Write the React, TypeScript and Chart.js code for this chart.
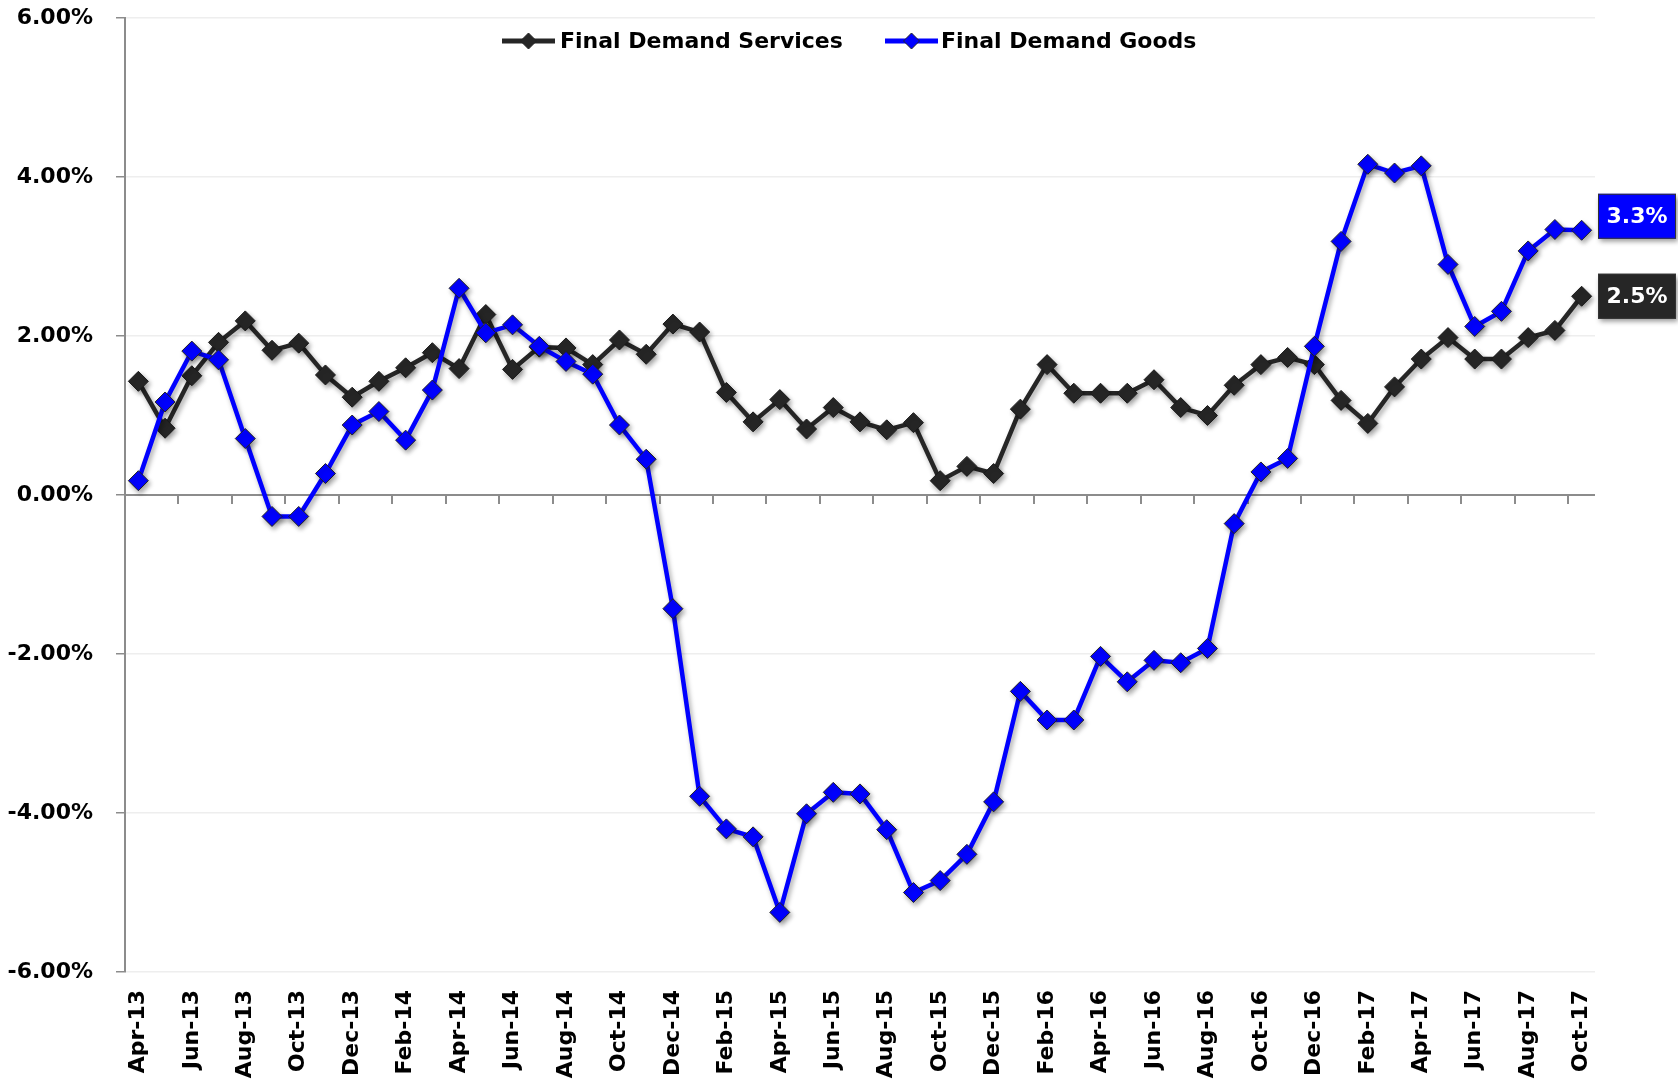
import { useEffect, useRef } from 'react';
import { Chart, registerables } from 'chart.js';

Chart.register(...registerables);

const months = [
  'Apr-13', 'May-13', 'Jun-13', 'Jul-13', 'Aug-13', 'Sep-13', 'Oct-13', 'Nov-13', 'Dec-13',
  'Jan-14', 'Feb-14', 'Mar-14', 'Apr-14', 'May-14', 'Jun-14', 'Jul-14', 'Aug-14', 'Sep-14', 'Oct-14', 'Nov-14', 'Dec-14',
  'Jan-15', 'Feb-15', 'Mar-15', 'Apr-15', 'May-15', 'Jun-15', 'Jul-15', 'Aug-15', 'Sep-15', 'Oct-15', 'Nov-15', 'Dec-15',
  'Jan-16', 'Feb-16', 'Mar-16', 'Apr-16', 'May-16', 'Jun-16', 'Jul-16', 'Aug-16', 'Sep-16', 'Oct-16', 'Nov-16', 'Dec-16',
  'Jan-17', 'Feb-17', 'Mar-17', 'Apr-17', 'May-17', 'Jun-17', 'Jul-17', 'Aug-17', 'Sep-17', 'Oct-17',
];

const servicesValues = [
  1.43, 0.84, 1.50, 1.92, 2.19, 1.82, 1.91, 1.51, 1.23,
  1.43, 1.60, 1.79, 1.59, 2.27, 1.58, 1.86, 1.85, 1.64, 1.95, 1.77, 2.15,
  2.05, 1.29, 0.92, 1.20, 0.83, 1.10, 0.92, 0.82, 0.91, 0.18, 0.36, 0.27,
  1.08, 1.64, 1.28, 1.28, 1.28, 1.45, 1.10, 1.00, 1.38, 1.64, 1.73, 1.64,
  1.19, 0.90, 1.36, 1.71, 1.98, 1.71, 1.71, 1.98, 2.07, 2.50,
];

const goodsValues = [
  0.18, 1.17, 1.81, 1.70, 0.71, -0.27, -0.27, 0.27, 0.88,
  1.05, 0.69, 1.32, 2.60, 2.04, 2.14, 1.87, 1.68, 1.52, 0.88, 0.45, -1.43,
  -3.79, -4.20, -4.30, -5.25, -4.01, -3.74, -3.76, -4.21, -5.00, -4.85, -4.52, -3.86,
  -2.47, -2.83, -2.83, -2.03, -2.35, -2.08, -2.11, -1.93, -0.36, 0.29, 0.46, 1.87,
  3.19, 4.16, 4.05, 4.14, 2.90, 2.12, 2.31, 3.07, 3.34, 3.33,
];

const seriesNames = ['Final Demand Services', 'Final Demand Goods'];
const seriesColors = ['#262626', '#0000ff'];
const endLabels = ['2.5%', '3.3%'];
const yMin = -6;
const yMax = 6;
const yStep = 2;

const FONT = '"DejaVu Sans", Verdana, sans-serif';

export default function App() {
  const ref = useRef<HTMLCanvasElement>(null);

  useEffect(() => {
    document.body.style.margin = '0';
    const canvas = ref.current;
    if (!canvas) return;

    const legendPos = [
      { lineX: 502, textX: 560 },
      { lineX: 885, textX: 941 },
    ];
    const endLabelOffsets = [0, -14];

    const overlay = {
      id: 'overlay',
      beforeDatasetsDraw(chart: any) {
        const { ctx, chartArea: a, scales } = chart;
        const xs = scales.x;
        const ys = scales.y;
        const y0 = ys.getPixelForValue(0);
        ctx.save();
        ctx.strokeStyle = '#8c8c8c';
        ctx.lineWidth = 2;
        ctx.beginPath();
        ctx.moveTo(a.left, y0);
        ctx.lineTo(a.right, y0);
        for (let i = 2; i < months.length; i += 2) {
          const bx = Math.round((xs.getPixelForValue(i - 1) + xs.getPixelForValue(i)) / 2);
          ctx.moveTo(bx, y0);
          ctx.lineTo(bx, y0 + 9);
        }
        ctx.stroke();
        ctx.restore();
        ctx.save();
        ctx.shadowColor = 'rgba(0,0,0,0.35)';
        ctx.shadowBlur = 5;
        ctx.shadowOffsetX = 2;
        ctx.shadowOffsetY = 3;
      },
      afterDatasetsDraw(chart: any) {
        chart.ctx.restore();
      },
      afterDraw(chart: any) {
        const { ctx, scales } = chart;
        const ys = scales.y;
        // legend
        ctx.save();
        const ly = 41;
        for (let k = 0; k < seriesNames.length; k++) {
          const p = legendPos[k];
          ctx.strokeStyle = seriesColors[k];
          ctx.lineWidth = 5;
          ctx.beginPath();
          ctx.moveTo(p.lineX, ly);
          ctx.lineTo(p.lineX + 53, ly);
          ctx.stroke();
          const cx = p.lineX + 26.5;
          ctx.fillStyle = seriesColors[k];
          ctx.strokeStyle = '#222';
          ctx.lineWidth = 1;
          ctx.beginPath();
          ctx.moveTo(cx, ly - 8);
          ctx.lineTo(cx + 8, ly);
          ctx.lineTo(cx, ly + 8);
          ctx.lineTo(cx - 8, ly);
          ctx.closePath();
          ctx.fill();
          ctx.stroke();
          ctx.fillStyle = '#000';
          ctx.font = `bold 22px ${FONT}`;
          ctx.textAlign = 'left';
          ctx.textBaseline = 'middle';
          ctx.fillText(seriesNames[k], p.textX, ly + 1);
        }
        ctx.restore();

        // end labels
        const values = [servicesValues, goodsValues];
        for (let k = 0; k < values.length; k++) {
          const v = values[k][values[k].length - 1];
          const cy = ys.getPixelForValue(v) + endLabelOffsets[k];
          const bx = 1598;
          const bw = 78;
          const bh = 45;
          ctx.save();
          ctx.shadowColor = 'rgba(0,0,0,0.4)';
          ctx.shadowBlur = 5;
          ctx.shadowOffsetX = 2;
          ctx.shadowOffsetY = 3;
          ctx.fillStyle = seriesColors[k];
          ctx.fillRect(bx, cy - bh / 2, bw, bh);
          ctx.restore();
          ctx.save();
          ctx.strokeStyle = '#333';
          ctx.lineWidth = 1;
          ctx.strokeRect(bx + 0.5, cy - bh / 2 + 0.5, bw - 1, bh - 1);
          ctx.fillStyle = '#fff';
          ctx.font = `bold 22px ${FONT}`;
          ctx.textAlign = 'center';
          ctx.textBaseline = 'middle';
          ctx.fillText(endLabels[k], bx + bw / 2, cy + 1);
          ctx.restore();
        }
      },
    };

    const chart = new Chart(canvas, {
      type: 'line',
      data: {
        labels: months,
        datasets: [
          {
            label: seriesNames[0],
            data: servicesValues,
            borderColor: seriesColors[0],
            backgroundColor: seriesColors[0],
            pointBackgroundColor: seriesColors[0],
            pointBorderColor: '#1a1a1a',
            pointBorderWidth: 1,
            borderWidth: 4.5,
            pointStyle: 'rectRot',
            pointRadius: 10,
            tension: 0,
            order: 1,
          },
          {
            label: seriesNames[1],
            data: goodsValues,
            borderColor: seriesColors[1],
            backgroundColor: seriesColors[1],
            pointBackgroundColor: seriesColors[1],
            pointBorderColor: '#222',
            pointBorderWidth: 1,
            borderWidth: 4.5,
            pointStyle: 'rectRot',
            pointRadius: 10,
            tension: 0,
            order: 0,
          },
        ],
      },
      options: {
        responsive: false,
        animation: false,
        events: [],
        layout: { padding: { top: 18, right: 83, bottom: 0, left: 0 } },
        plugins: {
          legend: { display: false },
          tooltip: { enabled: false },
        },
        scales: {
          x: {
            type: 'category',
            offset: true,
            grid: { display: false, drawTicks: false },
            border: { display: false },
            ticks: {
              autoSkip: false,
              maxRotation: 90,
              minRotation: 90,
              padding: 18,
              color: '#000',
              font: { family: FONT, size: 22, weight: 'bold' },
              callback: (_v: any, i: number) => (i % 2 === 0 ? months[i] : ''),
            },
            afterFit: (s: any) => {
              s.height = 116;
              s.paddingLeft = 0;
              s.paddingRight = 0;
            },
          },
          y: {
            min: yMin,
            max: yMax,
            grid: {
              color: '#eeeeee',
              lineWidth: 1.5,
              tickColor: '#8c8c8c',
              tickLength: 9,
              drawTicks: true,
            },
            border: { color: '#8c8c8c', width: 2 },
            ticks: {
              stepSize: yStep,
              padding: 23,
              color: '#000',
              font: { family: FONT, size: 22, weight: 'bold' },
              callback: (v: any) => `${Number(v).toFixed(2)}%`,
            },
            afterFit: (s: any) => {
              s.width = 125;
              s.paddingTop = 0;
              s.paddingBottom = 0;
            },
          },
        },
      },
      plugins: [overlay],
    });

    return () => chart.destroy();
  }, []);

  return (
    <div style={{ position: 'absolute', left: 0, top: 0, width: 1678, height: 1088, background: '#fff' }}>
      <canvas ref={ref} width={1678} height={1088} style={{ display: 'block' }} />
    </div>
  );
}
